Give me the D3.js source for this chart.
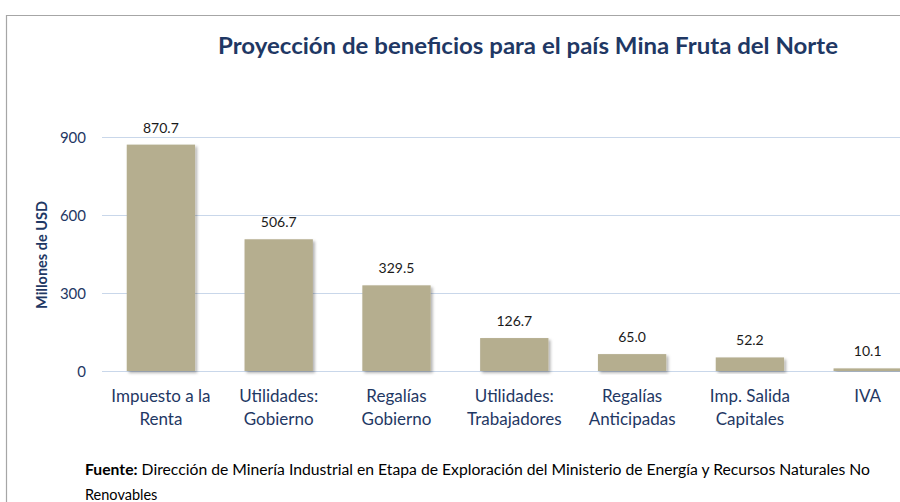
<!DOCTYPE html>
<html>
<head>
<meta charset="utf-8">
<script src="https://cdn.jsdelivr.net/npm/d3@7"></script>
<style>
  body { margin: 0; background: #fff; }
  svg { display: block; }
</style>
</head>
<body>
<svg id="chart" width="900" height="502"></svg>
<script>
// Proyeccion de beneficios - bar chart

const categories = [
  ["Impuesto a la", "Renta"],
  ["Utilidades:", "Gobierno"],
  ["Regalías", "Gobierno"],
  ["Utilidades:", "Trabajadores"],
  ["Regalías", "Anticipadas"],
  ["Imp. Salida", "Capitales"],
  ["IVA"]
];
const values = [870.7, 506.7, 329.5, 126.7, 65.0, 52.2, 10.1];
const yTicks = [0, 300, 600, 900];

const svg = d3.select("#chart");
const font = "Lato, 'Open Sans', sans-serif";
const navy = "#1f3864";

const padding = { top: 137, left: 102, bottom: 131 };
const height = 502;

// chart frame
svg.append("path")
  .attr("d", "M6.5,502 V15.5 H900")
  .attr("fill", "none")
  .attr("stroke", "#a6a6a6")
  .attr("stroke-width", 1.2);

let xScale = d3.scaleBand()
  .domain(d3.range(values.length))
  .range([padding.left, padding.left + 7 * 117.8])
  .paddingInner(0.42)
  .paddingOuter(0.21);

let yScale = d3.scaleLinear()
  .domain([0, 900])
  .range([height - padding.bottom, padding.top]);

// grid lines
svg.append("g")
  .selectAll("line")
  .data(yTicks)
  .join("line")
  .attr("x1", padding.left)
  .attr("x2", 900)
  .attr("y1", d => yScale(d) + 0.5)
  .attr("y2", d => yScale(d) + 0.5)
  .attr("stroke", "#c9d7ea")
  .attr("stroke-width", 1.2);

// y axis
let yAxis = svg.append("g")
  .attr("transform", "translate(" + (padding.left - 16) + ",0)")
  .call(d3.axisLeft(yScale).tickValues(yTicks).tickSize(0).tickPadding(0));
yAxis.select(".domain").remove();
yAxis.selectAll("text")
  .attr("font-family", font)
  .attr("font-size", 15)
  .attr("fill", navy)
  .attr("dy", "0.35em");

svg.append("text")
  .attr("transform", "translate(47,255) rotate(-90)")
  .attr("text-anchor", "middle")
  .attr("font-family", font)
  .attr("font-weight", "bold")
  .attr("font-size", 14.5)
  .attr("fill", navy)
  .text("Millones de USD");

// shadow filter
let defs = svg.append("defs");
let f = defs.append("filter").attr("id", "shadow")
  .attr("x", "-20%").attr("y", "-20%").attr("width", "140%").attr("height", "140%");
f.append("feDropShadow")
  .attr("dx", 2).attr("dy", 2).attr("stdDeviation", 1.6)
  .attr("flood-color", "#000").attr("flood-opacity", 0.3);

// bars
svg.append("g")
  .selectAll("rect")
  .data(values)
  .join("rect")
  .attr("x", (d, i) => xScale(i))
  .attr("y", d => yScale(d))
  .attr("width", xScale.bandwidth())
  .attr("height", d => yScale(0) - yScale(d))
  .attr("fill", "#b5ae8f")
  .attr("filter", "url(#shadow)");

// value labels
svg.append("g")
  .selectAll("text")
  .data(values)
  .join("text")
  .attr("x", (d, i) => xScale(i) + xScale.bandwidth() / 2)
  .attr("y", d => yScale(d) - 12)
  .attr("text-anchor", "middle")
  .attr("font-family", font)
  .attr("font-size", 14)
  .attr("fill", "#1a1a1a")
  .text(d => d.toFixed(1));

// category labels
let cat = svg.append("g")
  .selectAll("text")
  .data(categories)
  .join("text")
  .attr("x", (d, i) => xScale(i) + xScale.bandwidth() / 2)
  .attr("y", 402)
  .attr("text-anchor", "middle")
  .attr("font-family", font)
  .attr("font-size", 17)
  .attr("fill", navy);
cat.selectAll("tspan")
  .data(d => d)
  .join("tspan")
  .attr("x", function() { return d3.select(this.parentNode).attr("x"); })
  .attr("dy", (d, i) => i === 0 ? 0 : 23)
  .text(d => d);

// title
svg.append("text")
  .attr("x", 528)
  .attr("y", 54)
  .attr("text-anchor", "middle")
  .attr("font-family", font)
  .attr("font-weight", "bold")
  .attr("font-size", 22)
  .attr("textLength", 620)
  .attr("lengthAdjust", "spacingAndGlyphs")
  .attr("fill", navy)
  .text("Proyección de beneficios para el país Mina Fruta del Norte");

// source note
let note = svg.append("text")
  .attr("x", 85)
  .attr("y", 475)
  .attr("font-family", font)
  .attr("font-size", 14.5)
  .attr("textLength", 785)
  .attr("lengthAdjust", "spacingAndGlyphs")
  .attr("fill", "#000");
note.append("tspan").attr("font-weight", "bold").text("Fuente:");
note.append("tspan").text(" Dirección de Minería Industrial en Etapa de Exploración del Ministerio de Energía y Recursos Naturales No");
svg.append("text")
  .attr("x", 85)
  .attr("y", 500)
  .attr("font-family", font)
  .attr("font-size", 14.5)
  .attr("fill", "#000")
  .text("Renovables");
</script>
</body>
</html>
